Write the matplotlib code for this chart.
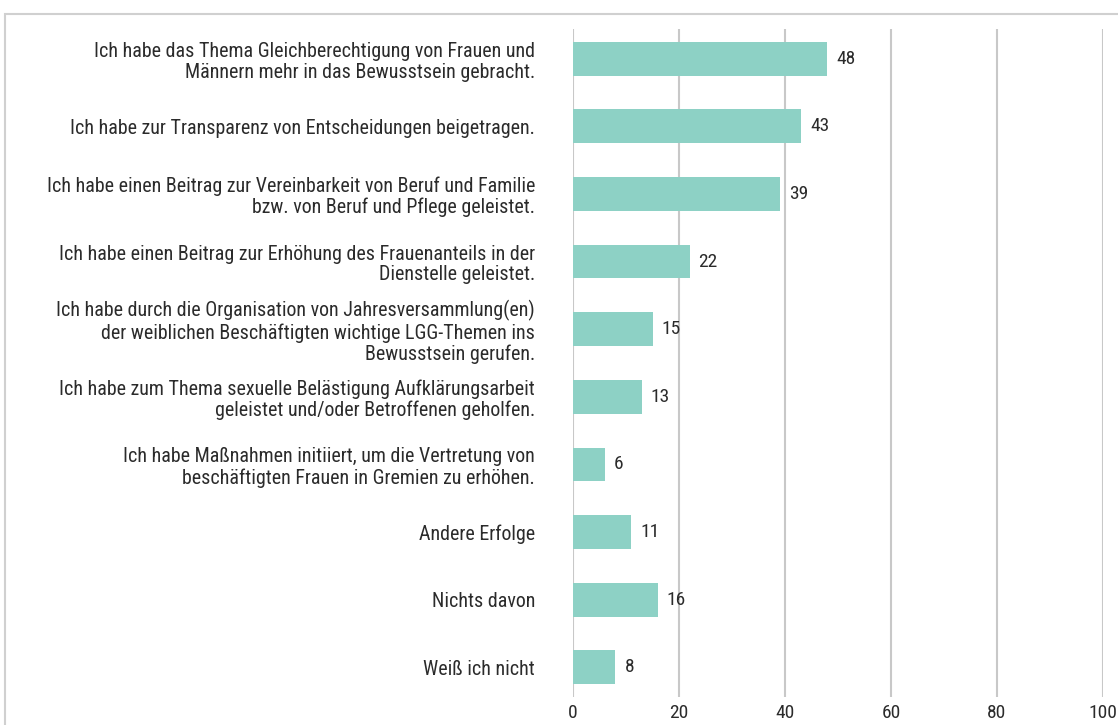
import matplotlib
matplotlib.use('Agg')
from matplotlib import pyplot as plt
from matplotlib.patches import Rectangle

plt.rcParams['font.family'] = ['Roboto Condensed', 'Liberation Sans', 'DejaVu Sans']

labels = [
    'Ich habe das Thema Gleichberechtigung von Frauen und\nMännern mehr in das Bewusstsein gebracht.',
    'Ich habe zur Transparenz von Entscheidungen beigetragen.',
    'Ich habe einen Beitrag zur Vereinbarkeit von Beruf und Familie\nbzw. von Beruf und Pflege geleistet.',
    'Ich habe einen Beitrag zur Erhöhung des Frauenanteils in der\nDienstelle geleistet.',
    'Ich habe durch die Organisation von Jahresversammlung(en)\nder weiblichen Beschäftigten wichtige LGG-Themen ins\nBewusstsein gerufen.',
    'Ich habe zum Thema sexuelle Belästigung Aufklärungsarbeit\ngeleistet und/oder Betroffenen geholfen.',
    'Ich habe Maßnahmen initiiert, um die Vertretung von\nbeschäftigten Frauen in Gremien zu erhöhen.',
    'Andere Erfolge',
    'Nichts davon',
    'Weiß ich nicht',
]
values = [48, 43, 39, 22, 15, 13, 6, 11, 16, 8]
xticks = [0, 20, 40, 60, 80, 100]

bar_color = '#8dd1c5'
text_color = '#2b2b2b'

fig = plt.figure(figsize=(11.18, 7.25), dpi=100)
ax = fig.add_axes([573 / 1118, 28 / 725, 530 / 1118, 668 / 725])

ypos = list(range(len(values)))
ax.barh(ypos, values, height=0.5, color=bar_color, zorder=3)
for y, v in zip(ypos, values):
    ax.text(v + 1.7, y, str(v), va='center', ha='left', fontsize=14,
            color=text_color, zorder=4)

ax.set_xlim(0, 100)
ax.set_ylim(len(values) - 1 + 0.44, -0.44)
ax.set_xticks(xticks)
ax.set_yticks(ypos)
ax.set_yticklabels(labels, fontsize=14.4, color=text_color, linespacing=1.12)
ax.tick_params(axis='x', length=0, pad=5, labelsize=14, labelcolor=text_color)
ax.tick_params(axis='y', length=0, pad=27.4)
ax.grid(axis='x', color='#c8c8c8', linewidth=1.5, zorder=0)
ax.grid(axis='y', visible=False)
for s in ax.spines.values():
    s.set_visible(False)

# light outer frame
fig.patches.append(Rectangle((5 / 1118, -0.1), 1.2, 1.1 - 14 / 725,
                             transform=fig.transFigure, fill=False,
                             edgecolor='#d0d0d0', linewidth=1.5))

fig.savefig('out.png', dpi=100)
